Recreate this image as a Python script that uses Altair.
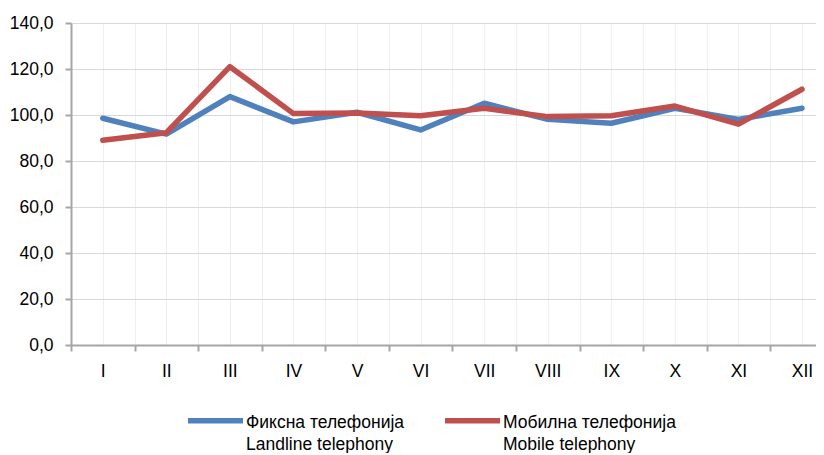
import json
import altair as alt
import pandas as pd

# ---- data ----
months = ["I", "II", "III", "IV", "V", "VI", "VII", "VIII", "IX", "X", "XI", "XII"]
month_num = [1, 2, 3, 4, 5, 6, 7, 8, 9, 10, 11, 12]
landline = [98.6, 91.7, 108.0, 97.0, 101.2, 93.5, 105.1, 98.1, 96.4, 102.9, 98.1, 102.9]
mobile = [89.0, 92.3, 121.0, 100.6, 100.9, 99.7, 102.9, 99.3, 99.7, 103.9, 96.0, 111.2]
series_names = ["Фиксна телефонија|Landline telephony", "Мобилна телефонија|Mobile telephony"]
series_colors = ["#4F81BD", "#C0504D"]
y_ticks = [0, 20, 40, 60, 80, 100, 120, 140]
x_grid = [0.5, 1.0, 1.5, 2.0, 2.5, 3.0, 3.5, 4.0, 4.5, 5.0, 5.5, 6.0,
          6.5, 7.0, 7.5, 8.0, 8.5, 9.0, 9.5, 10.0, 10.5, 11.0, 11.5, 12.0]

rows = []
for name, vals in zip(series_names, [landline, mobile]):
    for m, v in zip(month_num, vals):
        rows.append({"m": m, "v": v, "s": name})
df = pd.DataFrame(rows)

FONT = "Liberation Sans"
FS = 17.5
AXIS_GREY = "#a6a6a6"

month_expr = "datum.value % 1 === 0 ? " + json.dumps(months) + "[datum.value - 1] : ''"

chart = alt.Chart(df).mark_line(
    strokeWidth=5.5, strokeCap="round", strokeJoin="round"
).encode(
    x=alt.X(
        "m:Q",
        scale=alt.Scale(domain=[0.5, 12.22], nice=False, zero=False),
        axis=alt.Axis(
            values=x_grid, labelExpr=month_expr, title=None,
            grid=True, gridColor="#eeeeee", gridWidth=1,
            tickSize=6, tickWidth=2, tickColor=AXIS_GREY,
            tickOpacity={"condition": {"test": "datum.value % 1 !== 0", "value": 1}, "value": 0},
            domainColor=AXIS_GREY, domainWidth=2,
            labelPadding=11, labelFontSize=FS, labelColor="#000000",
            labelOverlap=False, labelFlush=False, labelBound=False,
        ),
    ),
    y=alt.Y(
        "v:Q",
        scale=alt.Scale(domain=[0, 140], nice=False),
        axis=alt.Axis(
            values=y_ticks, title=None,
            labelExpr="replace(format(datum.value, '.1f'), '.', ',')",
            grid=True, gridColor="#d9d9d9", gridWidth=1,
            tickSize=6, tickWidth=2, tickColor=AXIS_GREY,
            domainColor=AXIS_GREY, domainWidth=2,
            labelPadding=12, labelFontSize=FS, labelColor="#000000",
        ),
    ),
    color=alt.Color(
        "s:N",
        scale=alt.Scale(domain=series_names, range=series_colors),
        legend=alt.Legend(
            title=None, orient="none", legendX=114, legendY=374,
            direction="horizontal", symbolType="M-1,-0.25L1,-0.25", symbolSize=3025,
            symbolStrokeWidth=5.5, labelOffset=0, columnPadding=29,
            labelExpr="split(datum.label, '|')", labelFontSize=FS,
            labelColor="#000000", labelLimit=0, labelBaseline="alphabetic",
            labelFont=FONT, padding=0,
        ),
    ),
).properties(
    width=745,
    height=322,
    autosize=alt.AutoSizeParams(type="none"),
    padding={"left": 63, "top": 15, "right": 0, "bottom": 108},
).configure(
    font=FONT,
    style={"guide-label": {"lineHeight": 22}},
).configure_view(
    stroke=None,
).configure_axis(
    labelFont=FONT,
)

chart.save("out.html", embed_options={"renderer": "svg", "actions": False})
